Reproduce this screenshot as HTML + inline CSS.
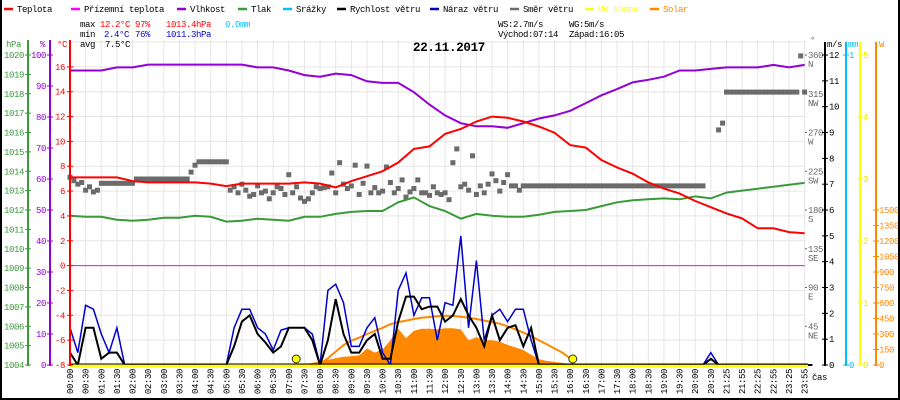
<!DOCTYPE html>
<html>
<head>
<meta charset="utf-8">
<style>
  html,body{margin:0;padding:0;background:#fff;}
  svg{display:block;}
  text{font-family:"Liberation Mono",monospace;font-size:9px;letter-spacing:-0.4px;}
</style>
</head>
<body>
<svg id="chart" width="900" height="400" viewBox="0 0 900 400" xmlns="http://www.w3.org/2000/svg">
  <rect x="0" y="0" width="900" height="400" fill="#fff"/>
  <g id="grid"></g>
  <g id="series"></g>
  <g id="axes"></g>
  <g id="legend"></g>
  <g id="stats">
    <text x="80" y="27" fill="#000">max</text>
    <text x="100" y="27" fill="#ff0000">12.2°C</text>
    <text x="135" y="27" fill="#ff0000">97%</text>
    <text x="166" y="27" fill="#ff0000">1013.4hPa</text>
    <text x="225" y="27" fill="#00bfff">0.0mm</text>
    <text x="80" y="37" fill="#000">min</text>
    <text x="104" y="37" fill="#0000cc">2.4°C</text>
    <text x="135" y="37" fill="#0000cc">76%</text>
    <text x="166" y="37" fill="#0000cc">1011.3hPa</text>
    <text x="80" y="47" fill="#000">avg</text>
    <text x="105" y="47" fill="#000">7.5°C</text>
    <text x="498" y="27" fill="#000">WS:2.7m/s</text>
    <text x="569" y="27" fill="#000">WG:5m/s</text>
    <text x="498" y="37" fill="#000">Východ:07:14</text>
    <text x="569" y="37" fill="#000">Západ:16:05</text>
    <text x="413" y="51" fill="#000" style="font-size:12.5px;font-weight:bold;letter-spacing:-0.3px">22.11.2017</text>
  </g>
  <rect x="1" y="-5" width="898" height="404" fill="none" stroke="#000" stroke-width="2"/>
</svg>
<script>
// ---------- DATA ----------
const timeLabels = ["00:00","00:30","01:00","01:30","02:00","02:30","03:00","03:30","04:00","04:30","05:00","05:30","06:00","06:30","07:00","07:30","08:00","08:30","09:00","09:30","10:00","10:30","11:00","11:30","12:00","12:30","13:00","13:30","14:00","14:30","15:00","15:30","16:00","16:30","17:00","17:30","18:00","18:30","19:00","19:30","20:00","20:30","21:25","21:55","22:25","22:55","23:25","23:55"];
// per label slot (48)
const temperature = [7.1,7.1,7.1,7.1,6.8,6.7,6.7,6.7,6.7,6.6,6.4,6.6,6.6,6.6,6.6,6.7,6.6,6.3,6.8,7.2,7.6,8.3,9.4,9.6,10.6,11.0,11.6,12.0,11.9,11.6,11.2,10.7,9.7,9.5,8.5,7.9,7.4,6.7,6.2,5.8,5.2,4.7,4.2,3.8,3.0,3.0,2.7,2.6];
const apparentTemp = [0,0,0,0,0,0,0,0,0,0,0,0,0,0,0,0,0,0,0,0,0,0,0,0,0,0,0,0,0,0,0,0,0,0,0,0,0,0,0,0,0,0,0,0,0,0,0,0];
const humidity = [95,95,95,96,96,96.9,96.9,96.9,96.9,96.9,96.9,96.9,96,96,95,93.5,93,94,93.5,91.5,91,91,88,84,80.5,78,77,77,76.5,78,79.5,80.5,82,84.5,87,89,91.2,92,93,95,95,95.5,96,96,96,96.8,96,96.8];
const pressure = [1011.7,1011.65,1011.65,1011.5,1011.45,1011.5,1011.6,1011.6,1011.7,1011.65,1011.4,1011.45,1011.55,1011.5,1011.45,1011.65,1011.65,1011.8,1011.9,1011.95,1011.95,1012.4,1012.65,1012.2,1011.95,1011.55,1011.8,1011.7,1011.65,1011.65,1011.75,1011.9,1011.95,1012.0,1012.2,1012.4,1012.5,1012.55,1012.6,1012.55,1012.7,1012.6,1012.9,1013.0,1013.1,1013.2,1013.3,1013.4];
// per quarter slot (192)
const windDir = [218,214,210,212,203,207,201,203,
211,211,211,211,211,211,211,211,211,
216,216,216,216,216,216,216,216,216,216,216,216,216,216,
224,232,
236,236,236,236,236,236,236,236,
203,207,200,210,203,196,198,208,200,202,
193,200,207,205,198,221,200,207,194,190,
193,200,207,205,206,207,223,200,235,210,
205,208,232,198,211,231,200,206,200,202,
230,212,200,205,215,195,201,205,215,200,
200,197,207,200,198,200,
192,235,251,207,210,203,243,198,208,200,210,222,214,202,212,221,208,208,203,
208,208,208,208,208,208,208,208,208,208,208,208,208,208,208,208,208,208,208,208,208,208,208,208,208,208,208,208,208,208,208,208,208,208,208,208,208,208,208,208,208,208,208,208,208,208,208,
null,null,null,273,281,
317,317,317,317,317,317,317,317,317,317,317,317,317,317,317,317,317,317,317,
359,317,null,null,null];
// per half slot (96)
const windSpeed = [0.48,0,1.44,1.44,0.24,0.48,0.48,0,
0,0,0,0,0,0,0,0,0,0,0,0,
0,0.72,1.68,1.92,1.2,0.87,0.48,0.72,1.44,1.44,1.44,0.96,0,0.96,2.55,1.2,0.48,0.48,0.96,1.2,0.24,0.24,1.68,2.65,2.65,2.16,2.26,2.26,1.68,1.92,2.55,1.92,1.44,0.72,1.92,0.96,1.44,1.54,0.72,1.44,
0,0,0,0,0,0,0,0,0,0,0,0,0,0,0,0,0,0,0,0,0,0,
0.24,
0,0,0,0,0,0,0,0,0,0,0,0,0];
const windGust = [1.44,0.48,2.31,2.16,1.2,0.48,1.44,0,
0,0,0,0,0,0,0,0,0,0,0,0,
0,1.44,2.16,2.16,1.44,1.2,0.58,1.35,1.44,1.44,1.44,1.2,0,2.89,3.13,2.41,0.72,0.72,1.44,1.83,0.48,0,2.89,3.56,1.92,2.6,2.6,0.96,2.41,2.31,5.0,1.44,4.04,0.96,1.92,2.16,1.68,2.16,2.16,0.96,
0,0,0,0,0,0,0,0,0,0,0,0,0,0,0,0,0,0,0,0,0,0,
0.48,
0,0,0,0,0,0,0,0,0,0,0,0,0];
const solar = [0,0,0,0,0,0,0,0,0,0,0,0,0,0,0,0,0,0,0,0,0,0,0,0,0,0,0,0,0,
2,8,20,35,50,65,80,85,95,160,120,150,240,350,260,330,350,350,345,355,355,345,240,270,240,240,225,195,170,145,100,55,40,30,20,10,3,
0,0,0,0,0,0,0,0,0,0,0,0,0,0,0,0,0,0,0,0,0,0,0,0,0,0,0,0,0,0];
const solarMax = [null,null,null,null,null,null,null,null,null,null,null,null,null,null,null,null,null,null,null,null,null,null,null,null,null,null,null,null,null,null,null,null,
10,65,130,193,235,265,300,330,360,395,415,430,445,457,465,472,476,474,468,458,445,430,415,400,375,345,315,280,240,200,160,120,65,
null,null,null,null,null,null,null,null,null,null,null,null,null,null,null,null,null,null,null,null,null,null,null,null,null,null,null,null,null,null,null];
const sunEvents = [14.47, 32.17];
// tick labels
const tempTicks = [-8,-6,-4,-2,0,2,4,6,8,10,12,14,16];
const humTicks = [0,10,20,30,40,50,60,70,80,90,100];
const presTicks = [1004,1005,1006,1007,1008,1009,1010,1011,1012,1013,1014,1015,1016,1017,1018,1019,1020];
const dirTicks = [45,90,135,180,225,270,315,360];
const dirNames = ["NE","E","SE","S","SW","W","NW","N"];
const msTicks = [0,1,2,3,4,5,6,7,8,9,10,11,12];
const uvTicks = [0,1,2,3,4,5];
const wTicks = [0,150,300,450,600,750,900,1050,1200,1350,1500];
const mmTicks = [0,1];

// ---------- SCALES ----------
const X0 = 70, DX = 15.63, YB = 365;
function xi(i){ return X0 + i*DX; }
function yT(t){ return 265.6 - t*12.42; }
function yH(h){ return YB - h*3.1; }
function yP(p){ return YB - (p-1004)*19.375; }
function yD(d){ return YB - d*0.861; }
function yW(v){ return YB - v*25.83; }
function yS(w){ return YB - w*0.1033; }
function yUV(u){ return YB - u*62; }
function yMM(m){ return YB - m*310; }

const NS = "http://www.w3.org/2000/svg";
function mk(tag, parent){ const e=document.createElementNS(NS,tag); parent.appendChild(e); return e; }
function setA(e, o){ for(const k in o) e.setAttribute(k,o[k]); }
function txt(parent, x, y, s, color, anchor){
  const t = mk('text', parent);
  setA(t,{x:x,y:y,fill:color,'text-anchor':anchor||'start'});
  t.textContent = s;
  return t;
}
function pathFrom(vals, step, yf){
  let d='', pen=false;
  vals.forEach((v,k)=>{
    if(v===null){ pen=false; return; }
    d += (pen?'L':'M') + xi(k*step).toFixed(1) + ' ' + yf(v).toFixed(1) + ' ';
    pen=true;
  });
  return d;
}

const grid = document.getElementById('grid');
const series = document.getElementById('series');
const axes = document.getElementById('axes');
const legend = document.getElementById('legend');

// ---------- GRID ----------
timeLabels.forEach((lab,i)=>{
  const l = mk('line', grid);
  setA(l,{x1:xi(i),x2:xi(i),y1:40,y2:YB,stroke:'#e6e6e6','stroke-width':1});
  
  
});
[18].concat(tempTicks).forEach(t=>{
  const l = mk('line', grid);
  setA(l,{x1:X0,x2:806,y1:yT(t),y2:yT(t),stroke:'#e6e6e6','stroke-width':1});
  
  
});

// ---------- SERIES ----------
// solar fill
{
  let d = 'M' + xi(0) + ' ' + YB + ' ';
  solar.forEach((w,k)=>{ d += 'L' + xi(k/2).toFixed(1) + ' ' + yS(w).toFixed(1) + ' '; });
  d += 'L' + xi((solar.length-1)/2) + ' ' + YB + ' Z';
  const p = mk('path', series);
  setA(p,{d:d,fill:'#ff8800',stroke:'none'});
  
  
}
// apparent temp
{
  const p = mk('path', series);
  setA(p,{d:pathFrom(apparentTemp,1,yT),fill:'none',stroke:'#ff00ff','stroke-width':1});
  
  
}
// wind direction
windDir.forEach((d,k)=>{
  if(d===null) return;
  const r = mk('rect', series);
  setA(r,{x:(xi(k/4)-2.5).toFixed(1),y:(yD(d)-2.5).toFixed(1),width:5,height:5,fill:'#6b6b6b'});
  
  
});
// pressure
{
  const p = mk('path', series);
  setA(p,{d:pathFrom(pressure,1,yP),fill:'none',stroke:'#3a9a3a','stroke-width':2});
  
  
}
// humidity
{
  const p = mk('path', series);
  setA(p,{d:pathFrom(humidity,1,yH),fill:'none',stroke:'#9400d3','stroke-width':2});
  
  
}
// temperature
{
  const p = mk('path', series);
  setA(p,{d:pathFrom(temperature,1,yT),fill:'none',stroke:'#ff0000','stroke-width':2});
  
  
}
// solar theoretical curve
{
  const p = mk('path', series);
  setA(p,{d:pathFrom(solarMax,0.5,yS),fill:'none',stroke:'#ff8800','stroke-width':2});
  
  
}
// gust
{
  const p = mk('path', series);
  setA(p,{d:pathFrom(windGust,0.5,yW),fill:'none',stroke:'#0000cc','stroke-width':1.5});
  
  
}
// wind speed
{
  const p = mk('path', series);
  setA(p,{d:pathFrom(windSpeed,0.5,yW),fill:'none',stroke:'#000','stroke-width':2});
  
  
}
// baseline (UV 0)
{
  const l = mk('line', series);
  setA(l,{x1:X0,x2:808,y1:364,y2:364,stroke:'#000','stroke-width':1});
  
  
  const u = mk('line', series);
  setA(u,{x1:X0,x2:808,y1:366,y2:366,stroke:'#ffff00','stroke-width':2.5});
  
  
}
sunEvents.forEach(i=>{
  const c = mk('circle', series);
  setA(c,{cx:xi(i).toFixed(1),cy:359,r:4,fill:'#ffff00',stroke:'#333','stroke-width':1});
  
  
});

// ---------- AXES ----------
function vAxis(x, y1, color, name){
  const l = mk('line', axes);
  setA(l,{x1:x,x2:x,y1:y1,y2:YB+1,stroke:color,'stroke-width':2});
  
  
}
function tick(x1,x2,y,color){
  const l = mk('line', axes);
  setA(l,{x1:x1,x2:x2,y1:y,y2:y,stroke:color,'stroke-width':1});
  
  
}
// left: hPa
vAxis(28, 40, '#3a9a3a', 'pressure-axis');
presTicks.forEach(p=>{
  tick(25,31,yP(p),'#3a9a3a');
  const t = txt(axes, 24, yP(p)+3, String(p), '#3a9a3a', 'end');
  
  
});
// %
vAxis(50, 40, '#9400d3', 'humidity-axis');
humTicks.forEach(h=>{
  tick(47,53,yH(h),'#9400d3');
  const t = txt(axes, 46, yH(h)+3, String(h), '#9400d3', 'end');
  
  
});
// °C
vAxis(70, 40, '#ff0000', 'temperature-axis');
tempTicks.forEach(v=>{
  tick(67,73,yT(v),'#ff0000');
  const t = txt(axes, 65, yT(v)+3, String(v), '#ff0000', 'end');
  
  
});
{
  let t = txt(axes, 6, 47, 'hPa', '#3a9a3a');
  
  
  t = txt(axes, 40, 47, '%', '#9400d3');
  
  
  t = txt(axes, 57, 47, '°C', '#ff0000');
  
  
}
// right: direction
dirTicks.forEach((d,k)=>{
  tick(805,807,yD(d),'#666');
  const t = txt(axes, 808, yD(d)+3, String(d), '#666');
  
  
  const n = txt(axes, 808, yD(d)+12, dirNames[k], '#666');
  
  
});
{
  const t = txt(axes, 810, 43, '°', '#666');
  
  
}
// m/s
vAxis(825, 42, '#000', 'wind-axis');
msTicks.forEach(v=>{
  tick(822,828,yW(v),'#000');
  const t = txt(axes, 829, yW(v)+3, String(v), '#000');
  
  
});
{
  const t = txt(axes, 827, 47, 'm/s', '#000');
  
  
}
// mm
vAxis(846, 42, '#00bfff', 'rain-axis');
mmTicks.forEach(v=>{
  tick(843,849,yMM(v),'#00bfff');
  const t = txt(axes, 849, yMM(v)+3, String(v), '#00bfff');
  
  
});
{
  const t = txt(axes, 848, 47, 'mm', '#00bfff');
  
  
}
// UV
vAxis(860, 42, '#ffff00', 'uv-axis');
uvTicks.forEach(v=>{
  tick(857,863,yUV(v),'#ffff00');
  const t = txt(axes, 863, yUV(v)+3, String(v), '#e6e600');
  
  
});
// W
vAxis(876, 42, '#ff8800', 'solar-axis');
wTicks.forEach(v=>{
  tick(873,879,yS(v),'#ff8800');
  const t = txt(axes, 879, yS(v)+3, String(v), '#ff8800');
  
  
});
{
  const t = txt(axes, 879, 47, 'W', '#ff8800');
  
  
}
// time labels
timeLabels.forEach((lab,i)=>{
  const x = xi(i)+3, y = 369;
  const t = txt(axes, x, y, lab, '#000', 'end');
  t.setAttribute('transform', 'rotate(-90 ' + x.toFixed(1) + ' ' + y + ')');
  
  
});
{
  const t = txt(axes, 812, 380, 'čas', '#000');
  
  
}

// ---------- LEGEND ----------
const legendNames = ["Teplota","Přízemní teplota","Vlhkost","Tlak","Srážky","Rychlost větru","Náraz větru","Směr větru","UV index","Solar"];
const legendColors = ["#ff0000","#ff00ff","#9400d3","#3a9a3a","#00bfff","#000000","#0000cc","#6b6b6b","#ffff00","#ff8800"];
const legendX = [4,71,177,238,283,337,430,510,585,650];
legendNames.forEach((n,k)=>{
  const g = mk('g', legend);
  
  
  const l = mk('line', g);
  setA(l,{x1:legendX[k],x2:legendX[k]+9,y1:9,y2:9,stroke:legendColors[k],'stroke-width':2.5});
  
  
  const col = (k>=8) ? legendColors[k] : '#000';
  const t = txt(g, legendX[k]+13, 12, n, col);
  
  
});
</script>
</body>
</html>
